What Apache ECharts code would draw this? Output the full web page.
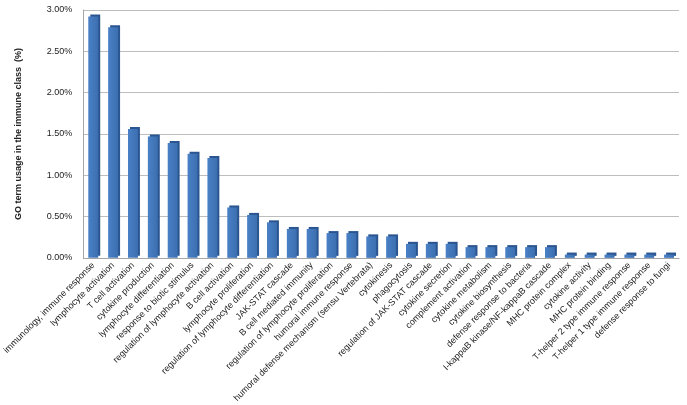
<!DOCTYPE html>
<html>
<head>
<meta charset="utf-8">
<script src="https://cdn.jsdelivr.net/npm/echarts@6/dist/echarts.min.js"></script>
<style>html,body{margin:0;padding:0;background:#fff}#chart{width:687px;height:405px}</style>
</head>
<body>
<div id="chart"></div>
<script>
var terms = ['immunology, immune response','lymphocyte activation','T cell activation','cytokine production',
	'lymphocyte differentiation','response to biotic stimulus','regulation of lymphocyte activation','B cell activation',
	'lymphocyte proliferation','regulation of lymphocyte differentiation','JAK-STAT cascade','B cell mediated immunity',
	'regulation of lymphocyte proliferation','humoral immune response','humoral defense mechanism (sensu Vertebrata)','cytokinesis',
	'phagocytosis','regulation of JAK-STAT cascade','cytokine secretion','complement activation',
	'cytokine metabolism','cytokine biosynthesis','defense response to bacteria','I-kappaB kinase/NF-kappaB cascade',
	'MHC protein complex','cytokine activity','MHC protein binding','T-helper 2 type immune response',
	'T-helper 1 type immune response','defense response to fungi'];
var usage = [2.92,2.79,1.56,1.47,1.39,1.26,1.21,0.61,
	0.52,0.43,0.35,0.35,0.30,0.30,0.26,0.26,
	0.17,0.17,0.17,0.13,0.13,0.13,0.13,0.13,
	0.04,0.04,0.04,0.04,0.04,0.04];
var yTicks = [0,0.5,1,1.5,2,2.5,3];

var chart = echarts.init(document.getElementById('chart'));
var option = {
	animation:false,
	grid:{left:83,right:8,top:10,bottom:145},
	xAxis:{
		type:'category',
		data:terms,
		axisTick:{show:false},
		axisLine:{lineStyle:{color:'#a6a6a6'}},
		axisLabel:{rotate:45,interval:0,fontFamily:'Liberation Sans',fontSize:9,color:'#222',margin:6}
	},
	yAxis:{
		type:'value',
		min:yTicks[0],max:yTicks[yTicks.length-1],interval:0.5,
		name:'GO term usage in the immune class  (%)',
		nameLocation:'middle',nameGap:60,
		nameTextStyle:{fontFamily:'Liberation Sans',fontSize:9,fontWeight:'bold',color:'#222'},
		axisLine:{show:true,lineStyle:{color:'#a6a6a6'}},
		axisTick:{show:false},
		axisLabel:{fontFamily:'Liberation Sans',fontSize:9,color:'#222',margin:11,formatter:function(v){return v.toFixed(2)+'%';}},
		splitLine:{lineStyle:{color:'#bdbdbd'}}
	},
	series:[{
		type:'bar',
		data:usage,
		barWidth:'50%',
		itemStyle:{
			color:new echarts.graphic.LinearGradient(0,0,1,0,[{offset:0,color:'#4a80c6'},{offset:1,color:'#3b6fb0'}]),
			shadowColor:'#2a5590',shadowOffsetX:2,shadowOffsetY:-2,shadowBlur:0
		}
	}]
};
chart.setOption(option);
</script>
</body>
</html>
